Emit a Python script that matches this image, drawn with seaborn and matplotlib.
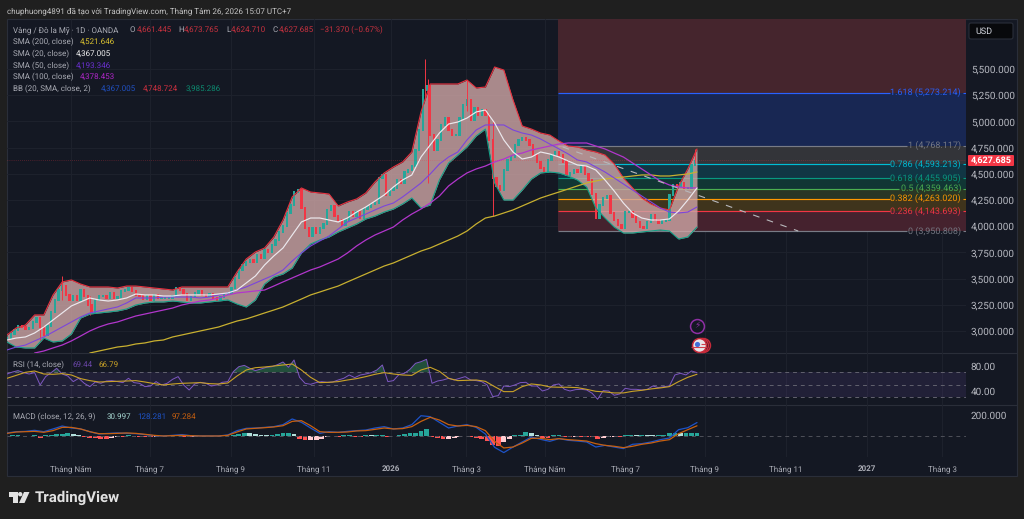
import numpy as np
import matplotlib
matplotlib.use('Agg')
import matplotlib.pyplot as plt
from matplotlib.patches import Circle, Polygon, Rectangle, FancyBboxPatch
import seaborn as sns

# candles, one every 2 daily bars
close = [2933,2971,3010,3048,3038,3019,3029,3086,3124,3038,2962,3048,3181,3296,3391,3429,3344,3296,3334,3296,
         3391,3334,3248,3181,3296,3334,3334,3315,3363,3315,3324,3382,3391,3410,3382,3344,3334,3305,3334,3296,
         3344,3315,3315,3315,3315,3334,3410,3391,3353,3296,3324,3363,3382,3344,3334,3353,3315,3296,3324,3353,
         3363,3410,3506,3582,3630,3658,3677,3658,3725,3697,3773,3754,3821,3868,3945,4002,4126,4202,4326,4345,
         4174,3983,3906,3983,3935,3983,4021,4155,4193,4097,4059,4011,4059,4135,4097,4135,4078,4164,4183,4212,
         4221,4460,4489,4298,4345,4365,4441,4412,4517,4536,4574,4727,4918,5300,5338,4870,4727,4823,4966,5032,
         4918,4870,4870,5032,5157,5204,5013,5128,5061,5109,5061,4823,4460,4384,4345,4536,4632,4660,4775,4823,
         4842,4823,4775,4679,4613,4555,4517,4632,4679,4708,4679,4613,4489,4508,4536,4517,4565,4498,4441,4307,
         4078,4202,4269,4288,4126,4059,4011,3983,4135,4135,4088,4040,3992,3983,4040,4107,4059,4030,4049,4059,
         4298,4393,4384,4412,4365,4365,4584,4628]
# only the wicks long enough to see: bar number, top, bottom
wick_bars = [30, 18, 45, 227, 229, 250, 264, 374]
wick_top = [3525, 3100, 3330, 5595, 5400, 5395, 5000, 4737]
wick_low = [3296, 2900, 3150, 5200, 4412, 5100, 4097, 4600]

# indicator lines, one value every 5 bars
bb_upper = [2962,3029,3057,3153,3153,3344,3468,3487,3448,3420,3420,3420,3410,3429,3429,3420,3410,3401,3391,3420,
            3420,3420,3420,3420,3420,3563,3687,3754,3792,3897,4059,4279,4365,4326,4317,4307,4193,4231,4260,4317,
            4422,4508,4565,4613,4708,5090,5357,5357,5357,5357,5395,5319,5328,5519,5490,5204,4956,4927,4889,4870,
            4813,4765,4756,4727,4708,4679,4593,4460,4365,4269,4212,4174,4155,4384,4546,4737]
bb_lower = [2895,2847,2838,2838,2933,2895,2905,2971,3124,3162,3172,3181,3191,3210,3248,3267,3277,3277,3286,3277,
            3267,3267,3277,3286,3296,3258,3229,3296,3448,3515,3544,3601,3744,3830,3868,3897,3945,3983,4021,4069,
            4097,4135,4164,4212,4269,4174,4202,4441,4603,4679,4756,4861,4927,4412,4250,4250,4345,4450,4508,4517,
            4508,4479,4441,4374,4174,4078,3992,3935,3935,3945,3954,3964,3954,3878,3897,3992]
sma20 = [2914,2933,2943,2981,3038,3105,3172,3239,3277,3315,3296,3286,3296,3315,3353,3344,3344,3334,3334,3344,
         3344,3344,3344,3353,3363,3391,3458,3525,3630,3716,3792,3916,4040,4078,4078,4059,4040,4078,4135,4183,
         4240,4298,4374,4441,4489,4660,4775,4889,4975,4994,5032,5090,5109,4985,4823,4708,4641,4660,4708,4689,
         4660,4622,4584,4574,4536,4441,4336,4221,4126,4078,4059,4059,4069,4145,4250,4365]
sma50 = [2819,2847,2866,2905,2943,2990,3038,3086,3134,3172,3191,3210,3229,3267,3315,3315,3315,3324,3324,3324,
         3324,3315,3324,3344,3363,3391,3420,3458,3496,3534,3582,3668,3744,3811,3859,3906,3973,4040,4078,4116,
         4155,4193,4221,4279,4345,4412,4498,4593,4660,4708,4823,4918,4966,4966,4966,4918,4889,4870,4832,4784,
         4737,4689,4632,4613,4565,4517,4460,4403,4345,4288,4231,4174,4135,4126,4135,4183]
sma100 = [np.nan,np.nan,np.nan,2790,2809,2838,2866,2905,2952,3000,3038,3067,3086,3115,3143,3162,3181,3200,3219,3248,
          3267,3286,3296,3315,3344,3363,3372,3382,3391,3429,3468,3506,3544,3582,3611,3649,3687,3744,3811,3868,
          3916,3954,3992,4059,4116,4164,4221,4288,4384,4450,4508,4546,4574,4613,4641,4679,4698,4727,4746,4765,
          4784,4794,4794,4794,4765,4737,4698,4660,4603,4546,4489,4431,4393,4374,4365,4365]
sma200 = [np.nan,np.nan,np.nan,np.nan,np.nan,np.nan,np.nan,np.nan,np.nan,2790,2809,2828,2847,2857,2876,2886,2905,2914,2943,2962,
          2981,3000,3019,3038,3067,3095,3115,3143,3172,3200,3229,3267,3305,3344,3372,3401,3429,3468,3506,3544,
          3582,3620,3649,3687,3725,3763,3792,3830,3868,3906,3954,4021,4078,4097,4126,4155,4193,4231,4269,4298,
          4326,4355,4384,4412,4431,4450,4460,4469,4479,4489,4489,4479,4479,4489,4498,4517]

# RSI, one value every 3 bars
rsi = [67.2,70.4,72.6,69.4,67.2,69.4,49.6,63,69.4,76.3,67.2,64,55,60.3,52.3,47,54.4,52.3,56,56.6,
       55,53.4,60.3,53.4,52.3,47,48,55,49.6,52.3,58.7,63,49.6,41.6,51.2,53.9,52.3,48,49.6,53.9,
       55,71,78.9,81,76.3,72.6,75.2,77.9,78.9,82.1,86.4,77.9,89.6,61.9,52.3,50.7,53.4,55,53.9,54.4,
       57.6,60.3,65.6,61.4,65.6,67.2,69.4,73.6,81.6,55,56.6,66.2,68.3,74.7,84.3,86.9,90.7,52.3,56,57.6,
       60.3,57.6,60.3,63,57.6,56.6,55,49.6,31,32.6,48,47,49.7,53.4,53.9,48,48,40,42.7,49.7,
       51.3,42.7,40,42.2,42.7,41.7,36.4,26.8,40.6,40,33.2,35.3,44.3,42.7,42.7,41.7,42.7,48,
       45.4,47,48,65.7,68.3,65.7,72.1,69.44]
# RSI average, one value every 5 bars
rsi_ma = [60.3,65,69.9,72,67.2,66.7,67.8,65.6,59.8,56.6,54.4,55,55.5,56,56.6,54.4,51.8,49.6,51.2,52.3,
          52.8,53.4,51.8,51.2,52.8,64,73.6,77.3,78.4,80,81.6,83.2,73.6,61.9,53.4,53.9,55,57.6,59.8,63,
          66.7,69.4,67.2,65.6,65,73.6,77.9,71.5,60.3,56.6,57.1,57.6,55.5,47,39,39,47,51.3,49.7,46.5,
          46,46,45.4,42.7,39.5,38.5,36.9,36.9,39.5,41.1,43.3,44.9,47,55,61.9,66.79]

# MACD and signal, one value every 5 bars; histogram one value every 3 bars
macd = [29,41,44,54,41,67,95,76,67,41,19,25,29,25,22,13,3,0,6,13,
        3,0,0,0,10,51,73,76,82,89,108,162,130,76,25,41,35,44,51,57,
        76,89,67,76,108,193,184,130,76,95,108,82,19,-108,-158,-105,-57,-10,-32,-51,
        -25,-41,-48,-57,-105,-89,-105,-120,-79,-73,-57,-35,-19,60,79,128]
signal = [25,38,41,44,35,51,82,82,67,41,22,22,25,29,25,16,6,0,3,6,
          3,0,0,0,6,38,67,73,79,86,98,139,146,98,41,35,35,38,48,51,
          63,76,67,70,89,139,178,152,108,95,101,89,51,-51,-114,-105,-67,-22,-22,-35,
          -25,-35,-41,-48,-73,-89,-98,-111,-98,-79,-67,-48,-35,22,60,97]
hist = [4,5,6,4,3,5,-15,8,14,18,22,28,18,6,-10,-18,-22,-28,-30,-20,
        -6,-8,5,-6,-8,-10,-14,-6,-3,-2,6,8,-5,-10,-6,3,4,-3,-2,3,
        4,14,22,28,24,16,12,8,14,20,26,30,18,-30,-42,-40,-36,-26,-10,-4,
        -6,5,8,-6,-9,6,5,12,14,-8,-4,10,18,24,32,48,66,-12,-22,-26,
        -24,-18,-6,3,-10,-18,-32,-50,-85,-92,-60,-28,8,12,35,30,5,-18,-20,6,
        10,-6,-8,-5,-7,-8,-10,-28,-15,-8,-6,-7,6,8,5,7,6,5,5,12,
        25,28,24,26,30,31]

# fibonacci retracement
fib_ratio = ['1.618', '1', '0.786', '0.618', '0.5', '0.382', '0.236', '0']
fib_price = [5273.214, 4768.117, 4593.213, 4455.905, 4359.463, 4263.020, 4143.693, 3950.808]
fib_line = ['#2962ff', '#787b86', '#00bcd4', '#089981', '#4caf50', '#ff9800', '#f23645', '#787b86']
fib_zone = ['#182753', '#333439', '#113644', '#113634', '#293625', '#3f341c', '#45222e']
fib_stop = [480, 489, 480, 480, 485, 480, 480, 489]
price_ticks = [3000, 3250, 3500, 3750, 4000, 4250, 4500, 4750, 5000, 5250, 5500]
time_bars = [34.8, 77.7, 121.7, 166.8, 208.7, 249.5, 292.4, 335.9, 379.3, 423.4, 467.4, 508.2]
time_text = ['Tháng Năm', 'Tháng 7', 'Tháng 9', 'Tháng 11', '2026', 'Tháng 3',
             'Tháng Năm', 'Tháng 7', 'Tháng 9', 'Tháng 11', '2027', 'Tháng 3']

PANEL = '#141823'
GRID = '#1e222d'
TXT = '#a9abb4'
FONT = ['Roboto', 'DejaVu Sans']

sns.set_theme(style='dark')
plt.rcParams['font.family'] = FONT
plt.rcParams['text.hinting'] = 'no_hinting'
plt.rcParams['text.hinting_factor'] = 1
fig = plt.figure(figsize=(10.24, 5.19), dpi=100, facecolor='#1f1f1f')


def pane(left, top, right, bottom):
    # axes placed from picture edges
    ax = fig.add_axes([left / 1024, 1 - bottom / 519, (right - left) / 1024, (bottom - top) / 519])
    ax.set_facecolor('none')
    for s in ax.spines.values():
        s.set_visible(False)
    ax.set_xlim(0, 521.2)
    ax.set_xticks(time_bars)
    ax.set_xticklabels([])
    ax.grid(True, axis='x', color=GRID, lw=0.7)
    ax.tick_params(axis='y', length=0, labelcolor='#b6b8c0', labelsize=7, pad=3.5)
    ax.tick_params(axis='x', length=0, labelcolor=TXT, labelsize=5.9, pad=6)
    ax.yaxis.tick_right()
    return ax


# full picture layer for the panel, header and logo
bg = fig.add_axes([0, 0, 1, 1], zorder=-1)
bg.set_xlim(0, 1024)
bg.set_ylim(519, 0)
bg.axis('off')
bg.add_patch(Rectangle((7, 19), 1010, 457, fc=PANEL, ec='#2a2e39', lw=0.8))
bg.hlines([353, 405], 7, 1017, color='#2a2e39', lw=0.8)
bg.text(7, 11, 'chuphuong4891 đã tạo với TradingView.com, Tháng Tám 26, 2026 15:07 UTC+7',
        color='#c4c4c4', fontsize=6.0, va='center')

ax = pane(7, 19, 966, 353)
ax.set_ylim(2790, 5977)
ax.set_yticks(price_ticks)
ax.set_yticklabels([f'{p:,.3f}' for p in price_ticks])
ax.grid(True, axis='y', color=GRID, lw=0.7)

# fib zones under everything
fib_left = 299.5
fib_right = 521.2
top_price = ax.get_ylim()[1]
ax.fill_between([fib_left, fib_right], fib_price[0], top_price, color='#45252d', lw=0, zorder=1)
for i in range(len(fib_zone)):
    ax.fill_between([fib_left, fib_right], fib_price[i + 1], fib_price[i], color=fib_zone[i], lw=0, zorder=1)
for p, c, stop, r in zip(fib_price, fib_line, fib_stop, fib_ratio):
    ax.hlines(p, fib_left, stop, color=c, lw=0.85, zorder=2)
    ax.hlines(p, 519.4, 521.2, color=c, lw=0.8, zorder=2)
    ax.text(518.5, p, f'{r} ({p:,.3f})', color=c, alpha=0.95, ha='right', va='center', fontsize=6.5, zorder=6)

grid5 = np.arange(0, 376, 5)
ax.fill_between(grid5, bb_lower, bb_upper, color='#d0a6a6', alpha=0.8, lw=0, zorder=3)

# candles
bars = np.arange(len(close)) * 2
opens = np.array([close[0]] + close[:-1])
closes = np.array(close)
up = closes >= opens
colors = np.where(up, '#26a69a', '#f23645')
ax.bar(bars, np.abs(closes - opens) + 12, bottom=np.minimum(opens, closes) - 6, width=1.25,
       color=colors, lw=0, zorder=4)
ax.vlines(wick_bars, wick_low, wick_top, color='#f23645', lw=0.7, zorder=4)

# lines through seaborn
sns.lineplot(x=grid5, y=bb_upper, ax=ax, color='#e8323f', lw=0.8, zorder=5)
sns.lineplot(x=grid5, y=bb_lower, ax=ax, color='#14a088', lw=0.8, zorder=5)
sns.lineplot(x=grid5, y=sma200, ax=ax, color='#c8b030', lw=0.9, zorder=5)
sns.lineplot(x=grid5, y=sma100, ax=ax, color='#b236cc', lw=0.9, zorder=5)
sns.lineplot(x=grid5, y=sma50, ax=ax, color='#7b45dc', lw=0.8, zorder=5)
sns.lineplot(x=grid5, y=sma20, ax=ax, color='#ece9ee', lw=0.85, zorder=5)
sns.lineplot(x=[302, 430], y=[4756, 3954], ax=ax, color='#b8b8bc', lw=0.8, linestyle=(0, (6, 7)), zorder=5)
ax.axhline(4627.685, color='#f23645', lw=0.5, ls=(0, (1, 2)), alpha=0.5, zorder=5)

# event markers
ax.scatter([375], [3048], s=100, fc=PANEL, ec='#8e2fa3', lw=1.1, zorder=6)
ax.text(375, 3048, '⚡', color='#8e2fa3', fontsize=6.5, ha='center', va='center', zorder=7,
        family=['DejaVu Sans'])
ax.scatter([378, 377], [2866, 2866], s=100, fc=PANEL, ec='#c62a3a', lw=1.1, zorder=6)
ax.scatter([376], [2866], s=100, fc='#e9e6ea', ec='#c62a3a', lw=1.1, zorder=7)
ax.scatter([374.8], [2880], s=14, fc='#3f6fd8', lw=0, zorder=8)
ax.hlines([2850, 2880], [372, 377], 380, color='#d0404c', lw=0.8, zorder=8)

# RSI panel
ax_rsi = pane(7, 353, 966, 405)
ax_rsi.set_ylim(17.6, 100.8)
ax_rsi.set_yticks([40, 80])
ax_rsi.set_yticklabels(['40.00', '80.00'])
ax_rsi.axhspan(30, 70, color='#7e57c2', alpha=0.13, lw=0)
ax_rsi.hlines([30, 50, 70], 0, 521.2, color='#62626e', lw=0.7, ls=(0, (4, 4)))
grid3 = np.arange(0, 376, 3)
rsi_arr = np.array(rsi)
ax_rsi.fill_between(grid3, 70, rsi_arr, where=rsi_arr > 70, interpolate=True, color='#2f7d4f', alpha=0.55, lw=0)
sns.lineplot(x=grid3, y=rsi, ax=ax_rsi, color='#7e57c2', lw=0.7)
sns.lineplot(x=grid5, y=rsi_ma, ax=ax_rsi, color='#c9a227', lw=0.8)

# MACD panel
ax_macd = pane(7, 405, 966, 457)
ax_macd.set_ylim(-200, 295)
ax_macd.set_yticks([200])
ax_macd.set_yticklabels(['200.000'])
ax_macd.hlines(0, 0, 521.2, color='#4e5059', lw=0.7, ls=(0, (4, 4)))
h = np.array(hist)
prev = np.r_[h[0], h[:-1]]
hist_col = np.select([(h >= 0) & (h >= prev), h >= 0, h < prev], ['#26a69a', '#b2dfdb', '#ff5252'], '#ffcdd2')
ax_macd.bar(grid3, h, width=2.6, color=hist_col, lw=0)
sns.lineplot(x=grid5, y=macd, ax=ax_macd, color='#1e53c8', lw=0.9)
sns.lineplot(x=grid5, y=signal, ax=ax_macd, color='#c8600f', lw=0.9)
ax_macd.set_xticklabels(time_text)
for lab, t in zip(ax_macd.get_xticklabels(), time_text):
    if t.isdigit():
        lab.set_fontweight('bold')

# header rows of the legend
rows = [
    (30, [(13, 'Vàng / Đô la Mỹ · 1D · OANDA', TXT), (130, 'O', TXT), (137, '4,661.445', '#c8323f'),
          (178, 'H', TXT), (184, '4,673.765', '#c8323f'), (226, 'L', TXT), (231, '4,624.710', '#c8323f'),
          (273, 'C', TXT), (279, '4,627.685', '#c8323f'), (320, '−31.370 (−0.67%)', '#c8323f')]),
    (42, [(13, 'SMA (200, close)', TXT), (80, '4,521.646', '#d8c030')]),
    (54, [(13, 'SMA (20, close)', TXT), (76, '4,367.005', '#f2f2f2')]),
    (66, [(13, 'SMA (50, close)', TXT), (76, '4,193.346', '#6a30d0')]),
    (77, [(13, 'SMA (100, close)', TXT), (80, '4,378.453', '#b026c8')]),
    (89, [(13, 'BB (20, SMA, close, 2)', TXT), (101, '4,367.005', '#2050c0'), (143, '4,748.724', '#d03040'),
          (186, '3,985.286', '#0d8a70')]),
    (365, [(13, 'RSI (14, close)', TXT), (72, '69.44', '#6a46a8'), (98, '66.79', '#c9a227')]),
    (417, [(13, 'MACD (close, 12, 26, 9)', TXT), (107, '30.997', '#a5d6d0'), (137, '128.281', '#1e53c8'),
           (172, '97.284', '#c8600f')]),
]

top = fig.add_axes([0, 0, 1, 1], zorder=20)
top.set_xlim(0, 1024)
top.set_ylim(519, 0)
top.axis('off')
for y, parts in rows:
    for x, s, c in parts:
        top.text(x, y, s, color=c, fontsize=5.9, va='center')

# price tag and currency box
top.add_patch(FancyBboxPatch((968, 155), 46, 11, boxstyle='round,pad=0,rounding_size=1', fc='#f23645', lw=0))
top.text(991, 160.5, '4,627.685', color='white', fontsize=6.8, ha='center', va='center', fontweight='bold')
top.add_patch(FancyBboxPatch((969, 23), 44, 16, boxstyle='round,pad=0,rounding_size=2', fc='#08090c', ec='#2a2e39', lw=0.8))
top.text(975, 31, 'USD', color='#d1d4dc', fontsize=6.8, va='center')

# logo
logo = '#e2e2e2'
top.add_patch(Polygon([(8.5, 492), (17.5, 492), (17.5, 503), (13, 503), (13, 496.5), (8.5, 496.5)], fc=logo, lw=0))
top.add_patch(Circle((20.2, 494.2), 2.2, fc=logo, lw=0))
top.add_patch(Polygon([(24, 492), (29.5, 492), (24.5, 503), (19, 503)], fc=logo, lw=0))
top.text(35, 498, 'TradingView', color=logo, fontsize=11, va='center', fontweight='bold')

fig.savefig('out.png', dpi=100, facecolor=fig.get_facecolor())
